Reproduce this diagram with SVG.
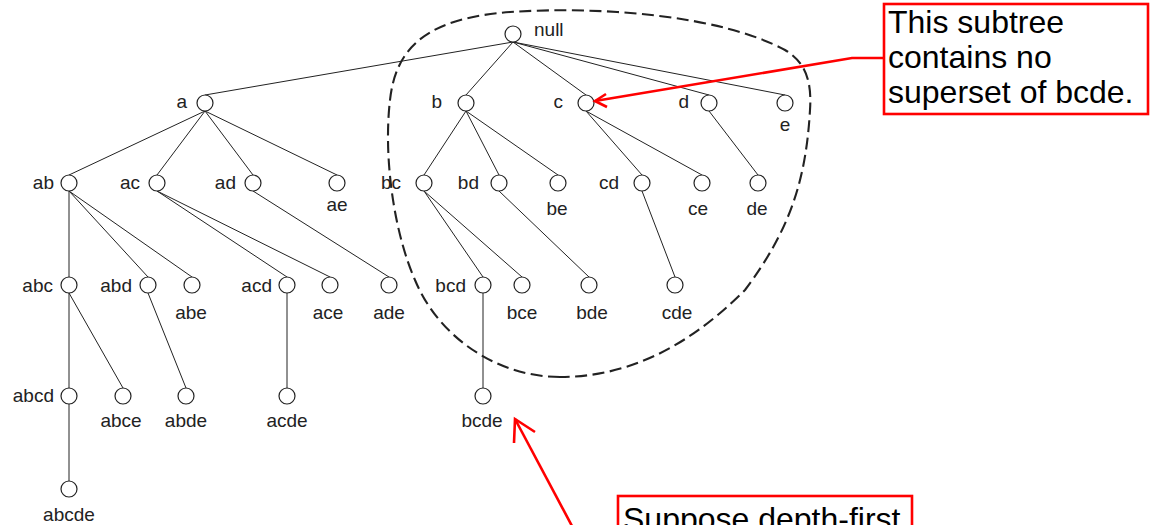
<svg xmlns="http://www.w3.org/2000/svg" width="1152" height="525" viewBox="0 0 1152 525">
<style>
.n circle{fill:#fff;stroke:#222;stroke-width:1.2}
.e line{stroke:#222;stroke-width:1}
text{font-family:"Liberation Sans",Arial,sans-serif;font-size:19px;fill:#222}
.l{text-anchor:end}
.b{text-anchor:middle}
.call{font-size:32px;fill:#000}
.red{stroke:#ff0000;stroke-width:2.6;fill:none}
</style>
<rect width="1152" height="525" fill="#fff"/>
<path id="subtree" d="M560 377 C500 377 440 340 415 280 C395 235 383 160 390 100 C396 45 430 18 510 12 C600 6 720 15 785 50 C805 62 812 80 810 110 C806 180 790 230 745 290 C700 335 640 377 560 377 Z" fill="none" stroke="#222" stroke-width="2.1" stroke-dasharray="12 5.5"/>
<g id="connectors" class="e">
<line x1="513" y1="42" x2="205" y2="95"/>
<line x1="513" y1="42" x2="466" y2="95"/>
<line x1="513" y1="42" x2="586" y2="95"/>
<line x1="513" y1="42" x2="709" y2="95"/>
<line x1="513" y1="42" x2="785" y2="95"/>
<line x1="205" y1="111" x2="69" y2="175"/>
<line x1="205" y1="111" x2="157" y2="175"/>
<line x1="205" y1="111" x2="253" y2="175"/>
<line x1="205" y1="111" x2="337" y2="175"/>
<line x1="466" y1="111" x2="424" y2="175"/>
<line x1="466" y1="111" x2="499" y2="175"/>
<line x1="466" y1="111" x2="558" y2="175"/>
<line x1="586" y1="111" x2="642" y2="175"/>
<line x1="586" y1="111" x2="702" y2="175"/>
<line x1="709" y1="111" x2="758" y2="175"/>
<line x1="69" y1="191" x2="69" y2="277"/>
<line x1="69" y1="191" x2="148" y2="277"/>
<line x1="69" y1="191" x2="192" y2="277"/>
<line x1="157" y1="191" x2="287" y2="277"/>
<line x1="157" y1="191" x2="330" y2="277"/>
<line x1="253" y1="191" x2="389" y2="277"/>
<line x1="424" y1="191" x2="483" y2="277"/>
<line x1="424" y1="191" x2="522" y2="277"/>
<line x1="499" y1="191" x2="589" y2="277"/>
<line x1="642" y1="191" x2="675" y2="277"/>
<line x1="69" y1="293" x2="69" y2="388"/>
<line x1="69" y1="293" x2="123" y2="388"/>
<line x1="148" y1="293" x2="186" y2="388"/>
<line x1="287" y1="293" x2="287" y2="388"/>
<line x1="483" y1="293" x2="483" y2="388"/>
<line x1="69" y1="404" x2="69" y2="481"/>
</g>
<g id="n-null" class="n"><circle cx="513" cy="34" r="8"/><text x="534" y="36">null</text></g>
<g id="n-a" class="n"><circle cx="205" cy="103" r="8"/><text class="l" x="187" y="108">a</text></g>
<g id="n-b" class="n"><circle cx="466" cy="103" r="8"/><text class="l" x="442" y="108">b</text></g>
<g id="n-c" class="n"><circle cx="586" cy="103" r="8"/><text class="l" x="563" y="108">c</text></g>
<g id="n-d" class="n"><circle cx="709" cy="103" r="8"/><text class="l" x="689" y="108">d</text></g>
<g id="n-e" class="n"><circle cx="785" cy="103" r="8"/><text class="b" x="785" y="131">e</text></g>
<g id="n-ab" class="n"><circle cx="69" cy="183" r="8"/><text class="l" x="54" y="189">ab</text></g>
<g id="n-ac" class="n"><circle cx="157" cy="183" r="8"/><text class="l" x="140" y="189">ac</text></g>
<g id="n-ad" class="n"><circle cx="253" cy="183" r="8"/><text class="l" x="236" y="189">ad</text></g>
<g id="n-ae" class="n"><circle cx="337" cy="183" r="8"/><text class="b" x="337" y="211">ae</text></g>
<g id="n-bc" class="n"><circle cx="424" cy="183" r="8"/><text class="l" x="401" y="189">bc</text></g>
<g id="n-bd" class="n"><circle cx="499" cy="183" r="8"/><text class="l" x="479" y="189">bd</text></g>
<g id="n-be" class="n"><circle cx="558" cy="183" r="8"/><text class="b" x="557" y="215">be</text></g>
<g id="n-cd" class="n"><circle cx="642" cy="183" r="8"/><text class="l" x="619" y="189">cd</text></g>
<g id="n-ce" class="n"><circle cx="702" cy="183" r="8"/><text class="b" x="698" y="215">ce</text></g>
<g id="n-de" class="n"><circle cx="758" cy="183" r="8"/><text class="b" x="757" y="215">de</text></g>
<g id="n-abc" class="n"><circle cx="69" cy="285" r="8"/><text class="l" x="53" y="292">abc</text></g>
<g id="n-abd" class="n"><circle cx="148" cy="285" r="8"/><text class="l" x="132" y="292">abd</text></g>
<g id="n-abe" class="n"><circle cx="192" cy="285" r="8"/><text class="b" x="191" y="319">abe</text></g>
<g id="n-acd" class="n"><circle cx="287" cy="285" r="8"/><text class="l" x="272" y="292">acd</text></g>
<g id="n-ace" class="n"><circle cx="330" cy="285" r="8"/><text class="b" x="328" y="319">ace</text></g>
<g id="n-ade" class="n"><circle cx="389" cy="285" r="8"/><text class="b" x="389" y="319">ade</text></g>
<g id="n-bcd" class="n"><circle cx="483" cy="285" r="8"/><text class="l" x="466" y="292">bcd</text></g>
<g id="n-bce" class="n"><circle cx="522" cy="285" r="8"/><text class="b" x="522" y="319">bce</text></g>
<g id="n-bde" class="n"><circle cx="589" cy="285" r="8"/><text class="b" x="592" y="319">bde</text></g>
<g id="n-cde" class="n"><circle cx="675" cy="285" r="8"/><text class="b" x="677" y="319">cde</text></g>
<g id="n-abcd" class="n"><circle cx="69" cy="396" r="8"/><text class="l" x="54" y="402">abcd</text></g>
<g id="n-abce" class="n"><circle cx="123" cy="396" r="8"/><text class="b" x="121" y="427">abce</text></g>
<g id="n-abde" class="n"><circle cx="186" cy="396" r="8"/><text class="b" x="186" y="427">abde</text></g>
<g id="n-acde" class="n"><circle cx="287" cy="396" r="8"/><text class="b" x="287" y="427">acde</text></g>
<g id="n-bcde" class="n"><circle cx="483" cy="396" r="8"/><text class="b" x="482" y="427">bcde</text></g>
<g id="n-abcde" class="n"><circle cx="69" cy="489" r="8"/><text class="b" x="69" y="521">abcde</text></g>
<g id="callout-top">
<rect class="red" x="884" y="4" width="264" height="110"/>
<text class="call" x="888" y="33">This subtree</text>
<text class="call" x="888" y="68">contains no</text>
<text class="call" x="888" y="103">superset of bcde.</text>
<polyline class="red" points="884,58 852,58 595,101"/>
<polyline class="red" points="606,94 595,101 607,107"/>
</g>
<g id="callout-bottom">
<rect class="red" x="618" y="496" width="294" height="80"/>
<text class="call" x="623" y="530">Suppose depth-first</text>
<line class="red" x1="572" y1="526" x2="515" y2="419"/>
<polyline class="red" points="514,443 515,419 535,432"/>
</g>
</svg>
